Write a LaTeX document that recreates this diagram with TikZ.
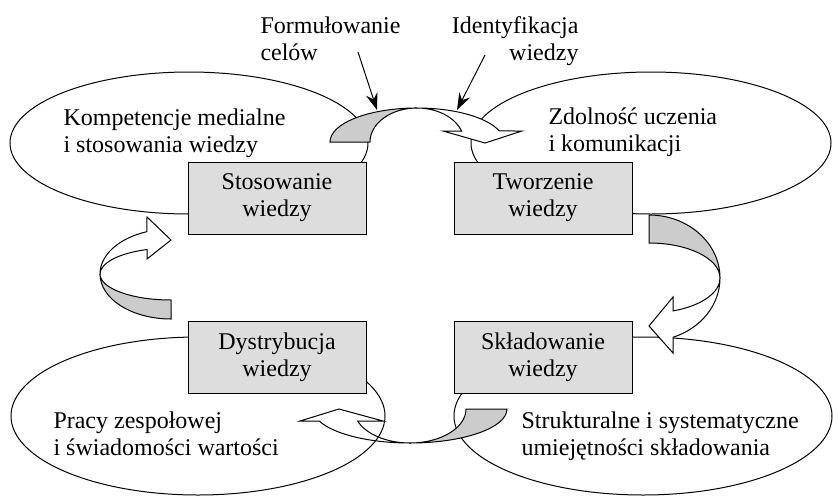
\documentclass[tikz,border=0pt]{standalone}
\usepackage{fontspec}
\setmainfont{Liberation Serif}
\usetikzlibrary{arrows.meta}

\definecolor{jasny}{HTML}{DDDDDD}
\definecolor{ciemny}{HTML}{CCCCCC}

\begin{document}
\begin{tikzpicture}[x=1pt,y=-1pt,>={Stealth[length=17pt,width=12pt,inset=6pt]},
                    line width=1pt,node distance=266pt,
                    font=\fontsize{24}{27}\selectfont]

  \tikzstyle{etap}=[rectangle,draw,fill=jasny,align=center,inner sep=0pt,
                    minimum width=178pt,minimum height=72pt]
  \tikzstyle{opis}=[align=left,inner sep=0pt,anchor=base west]
  \tikzstyle{grzbiet}=[draw,fill=ciemny]
  \tikzstyle{wstega}=[draw,fill=white]

  \useasboundingbox (0,0) rectangle (833,496);

  % obszary kompetencji
  \draw[fill=white] (189,143) ellipse [x radius=179, y radius=71];
  \draw[fill=white] (651,143) ellipse [x radius=180, y radius=71];
  \draw[fill=white] (643,416) ellipse [x radius=189, y radius=79];

  % wstega gorna
  \path[grzbiet] (330,142) arc [start angle=180, end angle=270, x radius=87, y radius=34]
                 arc [start angle=270, end angle=180, x radius=47, y radius=34] -- cycle;
  \path[wstega] (417,108) arc [start angle=270, end angle=341.1, x radius=87, y radius=34]
                -- (522,131) -- (485,143) -- (443,131) -- (461.5,131)
                arc [start angle=341.1, end angle=270, x radius=47, y radius=34] -- cycle;

  % wstega prawa
  \path[grzbiet] (649,215) arc [start angle=270, end angle=360, x radius=71, y radius=63]
                 arc [start angle=0, end angle=-90, x radius=71, y radius=35] -- cycle;
  \path[wstega] (720,278) arc [start angle=0, end angle=70.2, x radius=71, y radius=63]
                -- (673,353) -- (649,326) -- (673,297) -- (673.1,310.9)
                arc [start angle=70.2, end angle=0, x radius=71, y radius=35] -- cycle;

  % wstega dolna
  \path[grzbiet] (507,409) arc [start angle=0, end angle=90, x radius=97, y radius=34]
                 arc [start angle=90, end angle=0, x radius=56, y radius=34] -- cycle;
  \path[wstega] (410,443) arc [start angle=90, end angle=159.3, x radius=97, y radius=34]
                -- (300,421) -- (339,409) -- (383,421) -- (357.6,421)
                arc [start angle=159.3, end angle=90, x radius=56, y radius=34] -- cycle;

  % wstega lewa
  \path[grzbiet] (171,319) arc [start angle=90, end angle=180, x radius=71, y radius=45]
                 arc [start angle=180, end angle=90, x radius=71, y radius=26] -- cycle;
  \path[wstega] (100,274) arc [start angle=180, end angle=250.2, x radius=71, y radius=45]
                -- (147,217) -- (171,240) -- (147,259) -- (147,249.5)
                arc [start angle=250.2, end angle=180, x radius=71, y radius=26] -- cycle;

  \draw (198,416) ellipse [x radius=187, y radius=79];

  % etapy
  \node[etap] (STW) at (277,198)                     {Stosowanie\\wiedzy};
  \node[etap] (TWW) [right of=STW]                   {Tworzenie\\wiedzy};
  \node[etap] (DYW) [below of=STW,node distance=159pt] {Dystrybucja\\wiedzy};
  \node[etap] (SKW) [right of=DYW]                   {Składowanie\\wiedzy};

  % kompetencje
  \node[opis] (KMP) at (63,152)  {Kompetencje medialne\\i stosowania wiedzy};
  \node[opis] (ZDU) at (548,151) {Zdolność uczenia\\i komunikacji};
  \node[opis] (PRZ) at (53,455)  {Pracy zespołowej\\i świadomości wartości};
  \node[opis] (STR) at (521,455) {Strukturalne i systematyczne\\umiejętności składowania};

  % wejscia
  \node[opis] (FOR) at (260,60) {Formułowanie\\celów};
  \node[opis,align=right,anchor=base east] (IDE) at (579,60) {Identyfikacja\\wiedzy};

  \coordinate (FORa) at (358,52);
  \coordinate (FORb) at (377,110);
  \coordinate (IDEa) at (485,55);
  \coordinate (IDEb) at (457,110);

  \draw[->] (FORa) -- (FORb);
  \draw[->] (IDEa) -- (IDEb);
\end{tikzpicture}
\end{document}
